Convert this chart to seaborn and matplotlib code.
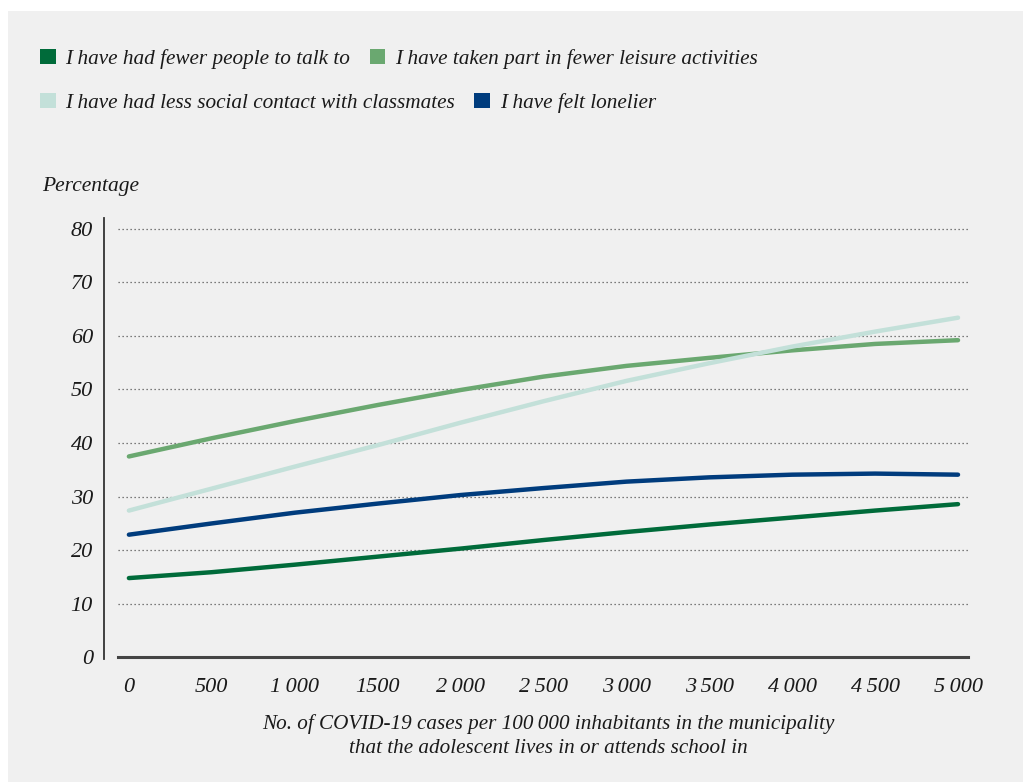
import seaborn as sns
import matplotlib.pyplot as plt
import pandas as pd
from matplotlib.patches import Patch, Rectangle

# data
cases = [0, 500, 1000, 1500, 2000, 2500, 3000, 3500, 4000, 4500, 5000]
fewer_people = [14.8, 15.9, 17.3, 18.8, 20.3, 21.9, 23.4, 24.8, 26.1, 27.4, 28.6]
fewer_leisure = [37.5, 40.9, 44.1, 47.1, 49.9, 52.4, 54.4, 55.9, 57.3, 58.5, 59.2]
less_classmates = [27.4, 31.5, 35.6, 39.6, 43.8, 47.8, 51.6, 54.9, 58.0, 60.8, 63.4]
lonelier = [22.9, 25.0, 27.0, 28.7, 30.3, 31.6, 32.8, 33.6, 34.1, 34.3, 34.1]

labels = ["I have had fewer people to talk to",
          "I have taken part in fewer leisure activities",
          "I have had less social contact with classmates",
          "I have felt lonelier"]
colors = ["#006b3a", "#6aa870", "#c3e0d9", "#003c7d"]

x_ticks = [0, 500, 1000, 1500, 2000, 2500, 3000, 3500, 4000, 4500, 5000]
x_tick_labels = ["0", "500", "1\u2009000", "1500", "2\u2009000", "2\u2009500",
                 "3\u2009000", "3\u2009500", "4\u2009000", "4\u2009500", "5\u2009000"]
y_ticks = [0, 10, 20, 30, 40, 50, 60, 70, 80]

df = pd.DataFrame({
    "cases": cases * 4,
    "pct": fewer_people + fewer_leisure + less_classmates + lonelier,
    "series": sum([[l] * len(cases) for l in labels], []),
})

sns.set_style("white")
plt.rcParams["font.family"] = ["Liberation Serif", "DejaVu Serif"]
plt.rcParams["font.style"] = "italic"
plt.rcParams["text.color"] = "#1a1a1a"

bg = "#f0f0f0"
fig = plt.figure(figsize=(10.23, 7.82), dpi=100, facecolor="white")
fig.patches.append(Rectangle((8 / 1023, 0), 1, 1 - 11 / 782, transform=fig.transFigure,
                             facecolor=bg, edgecolor="none", zorder=-10))
ax = fig.add_axes([0.1153, 0.1573, 0.8309, 0.5639])
ax.set_facecolor(bg)

sns.lineplot(data=df, x="cases", y="pct", hue="series", hue_order=labels,
             palette=colors, linewidth=3.2, ax=ax, legend=False,
             solid_capstyle="round", solid_joinstyle="round")

ax.set_xlim(-66, 5060)
ax.set_ylim(-0.3, 82)
ax.set_yticks(y_ticks)
ax.set_xticks(x_ticks)
ax.set_xticklabels(x_tick_labels)
ax.tick_params(axis="both", length=0, labelsize=16, colors="#1a1a1a")
ax.tick_params(axis="y", pad=8)
ax.tick_params(axis="x", pad=15)
ax.yaxis.grid(True, linestyle=(0, (1, 2.2)), linewidth=0.9, color="#555555")
ax.set_axisbelow(True)

for s in ["top", "right"]:
    ax.spines[s].set_visible(False)
ax.spines["left"].set_position(("outward", 10))
ax.spines["left"].set_color("#333333")
ax.spines["left"].set_linewidth(1.3)
ax.spines["left"].set_bounds(-0.3, 82)
ax.spines["bottom"].set_color("#444444")
ax.spines["bottom"].set_linewidth(2.2)
ax.spines["bottom"].set_position(("data", 0))
ax.set_xlabel("")
ax.set_ylabel("")

fig.text(42 / 1023, 1 - 187 / 782, "Percentage", fontsize=15.5, va="center", ha="left")
fig.text(548 / 1023, 1 - 736 / 782,
         "No. of COVID-19 cases per 100\u2009000 inhabitants in the municipality\n"
         "that the adolescent lives in or attends school in",
         fontsize=15.2, ha="center", va="center", linespacing=1.3)

handles = [Patch(facecolor=c, edgecolor="none") for c in colors]
leg_kw = dict(frameon=False, ncol=2, fontsize=15.3, handlelength=0.75, handleheight=0.75,
              handletextpad=0.45, columnspacing=0.9, borderaxespad=0, borderpad=0)
leg1 = fig.legend(handles[:2], labels[:2], loc="center left",
                  bbox_to_anchor=(40 / 1023, 1 - 59 / 782), **leg_kw)
leg2 = fig.legend(handles[2:], labels[2:], loc="center left",
                  bbox_to_anchor=(40 / 1023, 1 - 103 / 782), **leg_kw)

fig.savefig("out.png", dpi=100, facecolor=fig.get_facecolor())
